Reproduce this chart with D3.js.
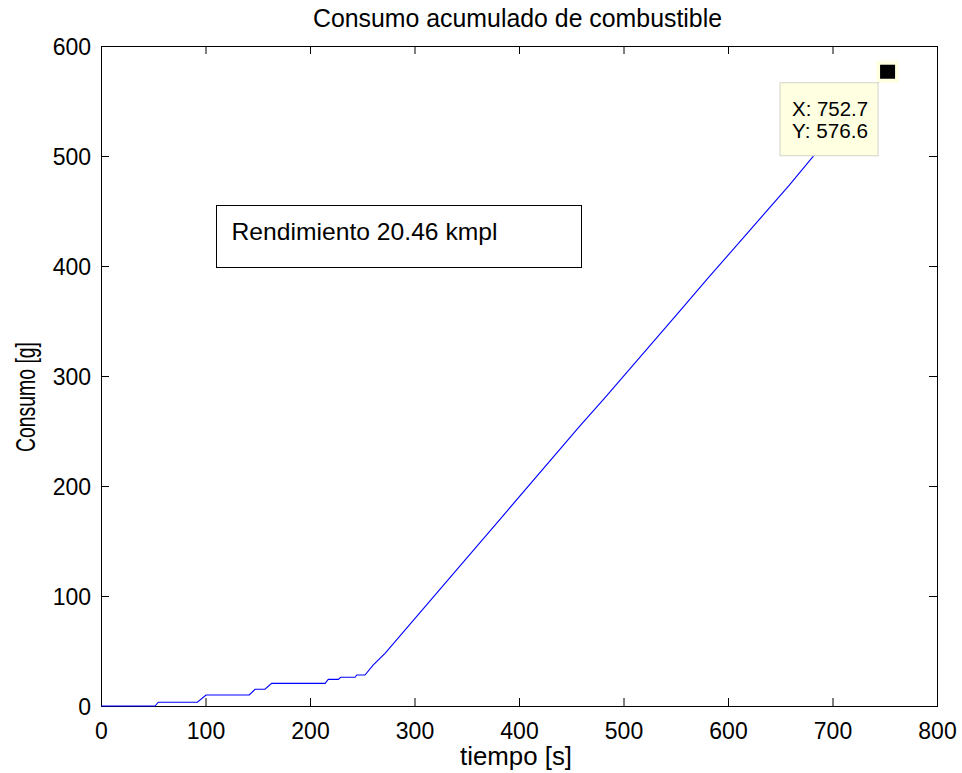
<!DOCTYPE html>
<html>
<head>
<meta charset="utf-8">
<script src="https://cdn.jsdelivr.net/npm/d3@7"></script>
<style>
  html, body { margin: 0; padding: 0; background: #ffffff; }
  svg { display: block; }
  text { font-family: "Liberation Sans", Arial, Helvetica, sans-serif; fill: #000; }
</style>
</head>
<body>
<svg id="chart" width="962" height="773"></svg>
<script>
// Cumulative fuel consumption over time
const tiempo = [0, 51.7, 54.8, 92.2, 100.5, 141.9, 147.4, 156.9, 163.3, 214.4, 217.5, 227.1, 229.4,
  243.1, 244.7, 252.6, 260.6, 271.8, 348.3, 381.8, 457.7, 481.3, 553.4, 580.2, 658.7, 681.3, 752.7];
const consumo = [0, 0, 3.4, 3.4, 10, 10, 15.2, 15.2, 20.6, 20.6, 24.2, 24.2, 26.1,
  26.1, 28.2, 28.2, 37.3, 47.9, 132.7, 169.7, 253.9, 279.1, 358.5, 388.2, 473.6, 499.5, 576.6];

const xTicks = [0, 100, 200, 300, 400, 500, 600, 700, 800];
const yTicks = [0, 100, 200, 300, 400, 500, 600];

const titulo = "Consumo acumulado de combustible";
const etiquetaX = "tiempo [s]";
const etiquetaY = "Consumo [g]";
const anotacion = "Rendimiento 20.46 kmpl";
const puntoMarcado = { x: 752.7, y: 576.6 };

const svg = d3.select("#chart");
const area = { left: 101, right: 937, top: 46, bottom: 706 };

const x = d3.scaleLinear().domain([0, 800]).range([area.left, area.right]);
const y = d3.scaleLinear().domain([0, 600]).range([area.bottom, area.top]);

const tickLen = 8;

// Tick marks on all four sides, pointing inward
const axB = svg.append("g").attr("transform", `translate(0,${area.bottom})`)
  .call(d3.axisBottom(x).tickValues(xTicks).tickSize(-tickLen).tickPadding(17).tickFormat(d3.format("d")));
const axT = svg.append("g").attr("transform", `translate(0,${area.top})`)
  .call(d3.axisTop(x).tickValues(xTicks).tickSize(-tickLen).tickFormat(""));
const axL = svg.append("g").attr("transform", `translate(${area.left},0)`)
  .call(d3.axisLeft(y).tickValues(yTicks).tickSize(-tickLen).tickPadding(10).tickFormat(d3.format("d")));
const axR = svg.append("g").attr("transform", `translate(${area.right},0)`)
  .call(d3.axisRight(y).tickValues(yTicks).tickSize(-tickLen).tickFormat(""));

[axB, axT, axL, axR].forEach(g => {
  g.select(".domain").remove();
  g.selectAll(".tick line").attr("stroke", "#000").attr("stroke-width", 1);
  g.selectAll(".tick text").attr("font-size", 23).attr("fill", "#000")
    .attr("font-family", "'Liberation Sans', Arial, sans-serif");
});
axB.selectAll(".tick text").attr("dy", "0.71em");
axL.selectAll(".tick text").attr("dy", "0.36em");

// Plot frame
svg.append("rect")
  .attr("x", area.left + 0.5).attr("y", area.top + 0.5)
  .attr("width", area.right - area.left).attr("height", area.bottom - area.top)
  .attr("fill", "none").attr("stroke", "#000").attr("stroke-width", 1);

// Data line
const pts = tiempo.map((t, i) => [t, consumo[i]]);
svg.append("path")
  .datum(pts)
  .attr("fill", "none")
  .attr("stroke", "#0000ff")
  .attr("stroke-width", 1.1)
  .attr("d", d3.line().x(d => x(d[0])).y(d => y(d[1])));

// Title and axis labels
svg.append("text")
  .attr("x", 517.5).attr("y", 27)
  .attr("text-anchor", "middle")
  .attr("font-size", 25)
  .attr("textLength", 409).attr("lengthAdjust", "spacingAndGlyphs")
  .text(titulo);

svg.append("text")
  .attr("x", 516).attr("y", 765)
  .attr("text-anchor", "middle")
  .attr("font-size", 25)
  .attr("textLength", 112).attr("lengthAdjust", "spacingAndGlyphs")
  .text(etiquetaX);

svg.append("text")
  .attr("transform", "translate(35,397) rotate(-90)")
  .attr("text-anchor", "middle")
  .attr("font-size", 28)
  .attr("textLength", 110).attr("lengthAdjust", "spacingAndGlyphs")
  .text(etiquetaY);

// Annotation box
svg.append("rect")
  .attr("x", 216.5).attr("y", 205.5)
  .attr("width", 365).attr("height", 62)
  .attr("fill", "#fff").attr("stroke", "#000").attr("stroke-width", 1);
svg.append("text")
  .attr("x", 231.5).attr("y", 240)
  .attr("font-size", 24)
  .attr("textLength", 266).attr("lengthAdjust", "spacingAndGlyphs")
  .text(anotacion);

// Data tip on the last point
const px = x(puntoMarcado.x), py = y(puntoMarcado.y);
svg.append("rect")
  .attr("x", px - 11).attr("y", py - 11)
  .attr("width", 22).attr("height", 22)
  .attr("fill", "#ffffe1");
svg.append("rect")
  .attr("x", px - 7.5).attr("y", py - 7)
  .attr("width", 15).attr("height", 14)
  .attr("fill", "#000");

const tipX = px - 108, tipY = py + 10.5;
svg.append("rect")
  .attr("x", tipX + 0.5).attr("y", tipY + 0.5)
  .attr("width", 98).attr("height", 73)
  .attr("fill", "#ffffe1").attr("stroke", "#d4d4c8").attr("stroke-width", 1);
svg.append("text")
  .attr("x", tipX + 12.5).attr("y", tipY + 34)
  .attr("font-size", 20.5)
  .attr("textLength", 76).attr("lengthAdjust", "spacingAndGlyphs")
  .text(`X: ${puntoMarcado.x.toFixed(1)}`);
svg.append("text")
  .attr("x", tipX + 12.5).attr("y", tipY + 56)
  .attr("font-size", 20.5)
  .attr("textLength", 76).attr("lengthAdjust", "spacingAndGlyphs")
  .text(`Y: ${puntoMarcado.y.toFixed(1)}`);
</script>
</body>
</html>
